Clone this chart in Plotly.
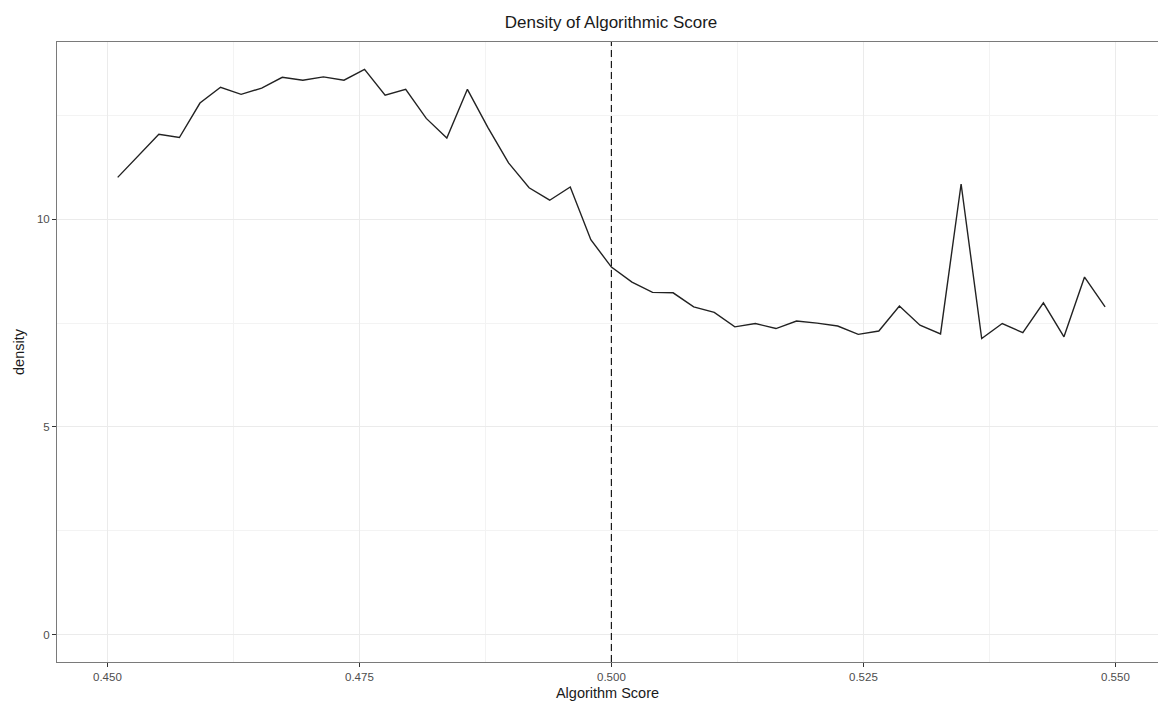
import numpy as np
import plotly.graph_objects as go

# Frequency-polygon density of the algorithm score: 49 equal bins on [0.45, 0.55]
bin_lo, bin_hi, n_bins = 0.45, 0.55, 49
bin_width = (bin_hi - bin_lo) / n_bins
score = [bin_lo + (i + 0.5) * bin_width for i in range(n_bins)]

density = [
    11.01, 11.53, 12.05, 11.97, 12.80, 13.18, 13.01, 13.16, 13.42, 13.35,
    13.43, 13.35, 13.61, 12.99, 13.13, 12.43, 11.96, 13.13, 12.21, 11.36,
    10.76, 10.46, 10.78, 9.51, 8.85, 8.49, 8.24, 8.23, 7.89, 7.76,
    7.41, 7.49, 7.37, 7.55, 7.50, 7.43, 7.23, 7.31, 7.91, 7.45,
    7.24, 10.85, 7.13, 7.49, 7.27, 7.99, 7.17, 8.61, 7.89,
]

threshold = 0.5

x_ticks = [0.450, 0.475, 0.500, 0.525, 0.550]
x_tick_labels = ["0.450", "0.475", "0.500", "0.525", "0.550"]
x_minor = [0.4625, 0.4875, 0.5125, 0.5375]
y_ticks = [0, 5, 10]
y_tick_labels = ["0", "5", "10"]
y_minor = [2.5, 7.5, 12.5]

FONT = "Liberation Sans, Arial, Helvetica, sans-serif"
GRID = "#ebebeb"
BORDER = "#7a7a7a"

fig = go.Figure()
fig.add_trace(go.Scatter(
    x=score, y=density, mode="lines",
    line=dict(color="#222222", width=1.4),
    hoverinfo="x+y", showlegend=False,
))

fig.add_shape(
    type="line", xref="x", yref="paper",
    x0=threshold, x1=threshold, y0=0, y1=1,
    line=dict(color="#1a1a1a", width=1.2, dash="7px,4px"),
)

fig.update_layout(
    width=1158, height=702,
    margin=dict(l=57, r=0, t=42, b=40),
    paper_bgcolor="white", plot_bgcolor="white",
    font=dict(family=FONT, color="#4d4d4d"),
    title=dict(
        text="Density of Algorithmic Score",
        x=611 / 1158, xanchor="center",
        y=1 - 22 / 702, yanchor="middle", yref="container",
        font=dict(size=17, color="#1a1a1a", family=FONT),
    ),
    xaxis=dict(
        range=[0.445, 0.445 + 1101 / 10080],
        tickvals=x_ticks, ticktext=x_tick_labels,
        tickfont=dict(size=11.5, color="#4d4d4d"),
        ticks="outside", ticklen=4, tickcolor="#333333", tickwidth=1,
        showgrid=True, gridcolor=GRID, gridwidth=1,
        minor=dict(tickvals=x_minor, showgrid=True, gridcolor="#f3f3f3",
                   gridwidth=1, ticks=""),
        showline=True, linecolor=BORDER, linewidth=1, mirror=True,
        zeroline=False,
        title=dict(text="Algorithm Score", standoff=6,
                   font=dict(size=14.5, color="#1a1a1a")),
    ),
    yaxis=dict(
        range=[-0.66, 14.27],
        tickvals=y_ticks, ticktext=y_tick_labels,
        tickfont=dict(size=11.5, color="#4d4d4d"),
        ticks="outside", ticklen=4, tickcolor="#333333", tickwidth=1,
        showgrid=True, gridcolor=GRID, gridwidth=1,
        minor=dict(tickvals=y_minor, showgrid=True, gridcolor="#f3f3f3",
                   gridwidth=1, ticks=""),
        showline=True, linecolor=BORDER, linewidth=1, mirror=False,
        zeroline=False,
        title=dict(text="density", standoff=8,
                   font=dict(size=14.5, color="#1a1a1a")),
    ),
)

fig.write_html("out.html")
